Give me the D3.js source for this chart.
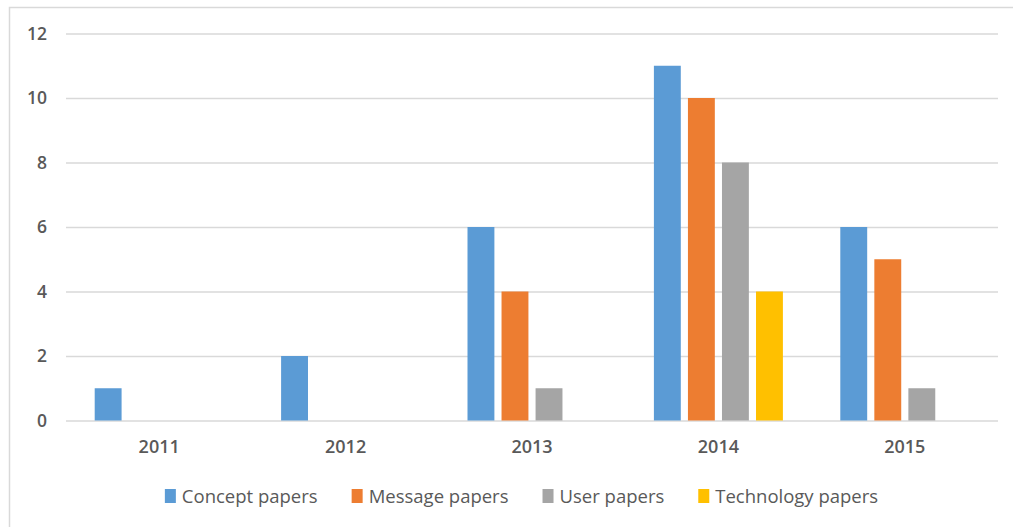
<!DOCTYPE html>
<html><head><meta charset="utf-8">
<script src="https://cdn.jsdelivr.net/npm/d3@7/dist/d3.min.js"></script>
<style>body{margin:0;background:#fff}svg{display:block}</style>
</head><body>
<svg id="c" width="1013" height="527"></svg>
<script>
const years = ["2011","2012","2013","2014","2015"];
const seriesNames = ["Concept papers","Message papers","User papers","Technology papers"];
const concept = [1,2,6,11,6];
const message = [0,0,4,10,5];
const user = [0,0,1,8,1];
const technology = [0,0,0,4,0];
const yTicks = [0,2,4,6,8,10,12];
const colors = ["#5b9bd5","#ed7d31","#a5a5a5","#ffc000"];

const values = [concept, message, user, technology];
const svg = d3.select("#c");
const font = "'Open Sans', 'Liberation Sans', sans-serif";

svg.append("rect").attr("x",9.5).attr("y",7.5).attr("width",1020).attr("height",530)
  .attr("fill","#fff").attr("stroke","#d9d9d9").attr("stroke-width",1.5);

const x0 = d3.scaleBand().domain(years).range([66,998]).padding(0);
const x1 = d3.scaleBand().domain(seriesNames).range([-64.5,64.5]).paddingInner(0.21);
const y = d3.scaleLinear().domain([0,12]).range([420.5,33.5]);

const yAxis = d3.axisLeft(y).tickValues(yTicks).tickSize(-(998-66)).tickPadding(19);
const gy = svg.append("g").attr("transform","translate(66,0)").call(yAxis);
gy.select(".domain").remove();
gy.selectAll(".tick line").attr("stroke","#d9d9d9").attr("stroke-width",1.3);
gy.selectAll(".tick text").attr("fill","#595959").style("font-family",font)
  .style("font-size","17.5px").style("font-weight","600");

const data = [];
years.forEach((yr,i)=>seriesNames.forEach((s,j)=>{ if(values[j][i]>0) data.push({yr,s,v:values[j][i],c:colors[j]}); }));
svg.append("g").selectAll("rect").data(data).join("rect")
  .attr("x",d=>x0(d.yr)+x0.bandwidth()/2+x1(d.s))
  .attr("width",x1.bandwidth())
  .attr("y",d=>y(d.v))
  .attr("height",d=>y(0)-y(d.v))
  .attr("fill",d=>d.c);

const xAxis = d3.axisBottom(x0).tickSize(0).tickPadding(20);
const gx = svg.append("g").attr("transform","translate(0,420.5)").call(xAxis);
gx.select(".domain").remove();
gx.selectAll(".tick text").attr("fill","#595959").style("font-family",font)
  .style("font-size","18px").style("font-weight","600");

// legend
const lg = svg.append("g");
let cx = 0;
const gap = 34;
seriesNames.forEach((s,j)=>{
  const g = lg.append("g");
  g.append("rect").attr("x",0).attr("y",-7).attr("width",11).attr("height",14).attr("fill",colors[j]);
  const t = g.append("text").attr("x",17).attr("y",6.5).text(s).attr("fill","#595959")
    .style("font-family",font).style("font-size","18.5px");
  const w = 17 + t.node().getComputedTextLength();
  g.attr("transform",`translate(${cx},0)`);
  cx += w + gap;
});
const total = cx - gap;
lg.attr("transform",`translate(${521.5 - total/2},496)`);
</script>
</body></html>
